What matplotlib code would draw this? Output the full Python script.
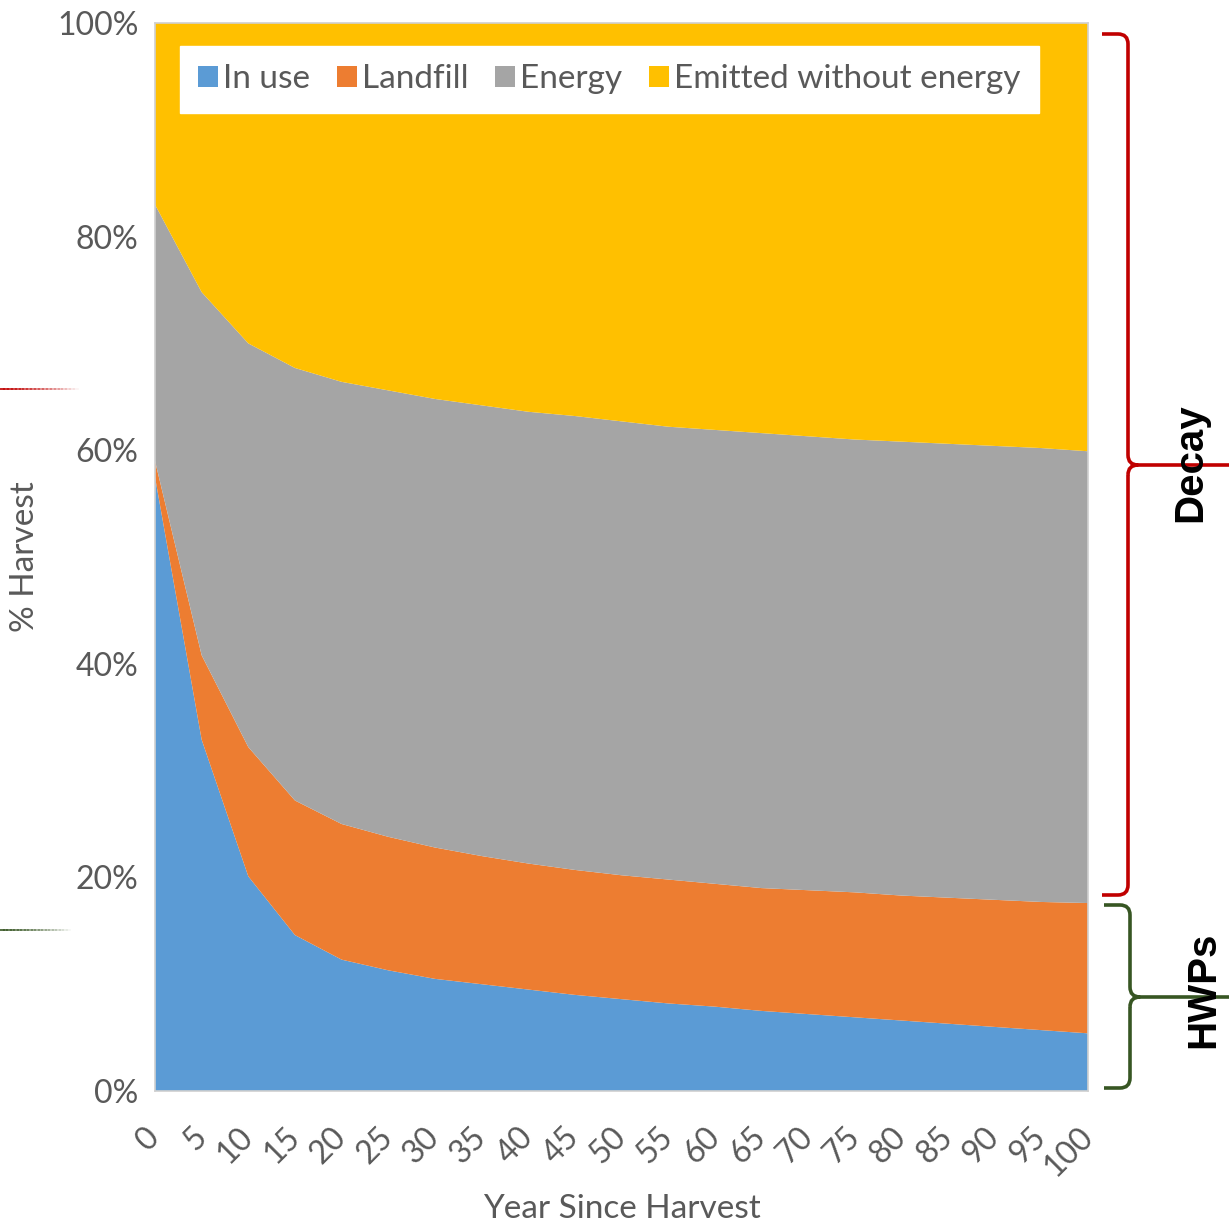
import matplotlib
matplotlib.use("Agg")
import matplotlib.pyplot as plt
from matplotlib.path import Path
from matplotlib.patches import PathPatch, Patch
import numpy as np

# Datos (% de la cosecha)
years = [0, 5, 10, 15, 20, 25, 30, 35, 40, 45, 50, 55, 60, 65, 70, 75, 80, 85, 90, 95, 100]
in_use = [57.5, 32.9, 20.1, 14.6, 12.3, 11.3, 10.5, 10.0, 9.5, 9.0, 8.6, 8.2, 7.9, 7.5, 7.2, 6.9, 6.6, 6.3, 6.0, 5.7, 5.4]
landfill = [1.5, 7.9, 12.1, 12.6, 12.7, 12.5, 12.3, 12.0, 11.8, 11.7, 11.6, 11.6, 11.5, 11.5, 11.6, 11.7, 11.7, 11.8, 11.9, 12.0, 12.2]
energy = [24.0, 34.0, 37.8, 40.5, 41.4, 41.8, 42.0, 42.2, 42.3, 42.5, 42.5, 42.4, 42.5, 42.6, 42.5, 42.4, 42.5, 42.5, 42.5, 42.5, 42.3]
emitted = [17.0, 25.2, 30.0, 32.3, 33.6, 34.4, 35.2, 35.8, 36.4, 36.8, 37.3, 37.8, 38.1, 38.4, 38.7, 39.0, 39.2, 39.4, 39.6, 39.8, 40.1]

series_names = ["In use", "Landfill", "Energy", "Emitted without energy"]
colors = ["#5B9BD5", "#ED7D31", "#A5A5A5", "#FFC000"]
yticks = [0, 20, 40, 60, 80, 100]

W, H = 1229, 1231
fig = plt.figure(figsize=(W / 100, H / 100), dpi=100)
ax = fig.add_axes([155 / W, 1 - 1091 / H, (1088 - 155) / W, (1091 - 23) / H])

ax.stackplot(years, in_use, landfill, energy, emitted, colors=colors, linewidth=0)
ax.set_xlim(0, 100)
ax.set_ylim(0, 100)

gris = "#595959"
ax.set_xticks(years)
ax.set_xticklabels([str(y) for y in years], rotation=45, ha="right", va="center",
                   rotation_mode="anchor", fontsize=23, color=gris, family="Lato")
ax.set_yticks(yticks)
ax.set_yticklabels([f"{v}%" for v in yticks], fontsize=23, color=gris, family="Lato")
ax.tick_params(axis="both", length=0)
ax.tick_params(axis="x", pad=30)
ax.tick_params(axis="y", pad=12)
for s in ax.spines.values():
    s.set_color("#D0D0D0")
    s.set_linewidth(1.2)

ax.set_ylabel("% Harvest", fontsize=24, color=gris, family="Lato", labelpad=12)
ax.set_xlabel("Year Since Harvest", fontsize=24, color=gris, family="Lato", labelpad=8)

# Leyenda en caja blanca
handles = [Patch(facecolor=c, edgecolor="none") for c in colors]
leg = ax.legend(handles, series_names, ncol=4, loc="upper left",
                bbox_to_anchor=((180 - 155) / 933, 1 - (46 - 23) / 1068),
                frameon=True, fancybox=False, framealpha=1,
                edgecolor="white", handlelength=0.6, handleheight=0.6,
                handletextpad=0.15, columnspacing=0.8, borderpad=0.55,
                borderaxespad=0, prop={"family": "Lato", "size": 24})
for t in leg.get_texts():
    t.set_color(gris)


def fx(x, y):
    return (x / W, 1 - y / H)


def brace(x0, xv, xt, ytop, ymid, ybot, color, r=10):
    verts = [fx(x0, ytop), fx(xv - r, ytop), fx(xv, ytop), fx(xv, ytop + r),
             fx(xv, ymid - r), fx(xv, ymid), fx(xv + r, ymid),
             fx(xv, ymid + r), fx(xv, ymid), fx(xv + r, ymid),
             fx(xv, ymid + r), fx(xv, ybot - r), fx(xv, ybot), fx(xv - r, ybot), fx(x0, ybot),
             fx(xv + r, ymid), fx(xt, ymid)]
    codes = [Path.MOVETO, Path.LINETO, Path.CURVE3, Path.CURVE3,
             Path.LINETO, Path.CURVE3, Path.CURVE3,
             Path.MOVETO, Path.CURVE3, Path.CURVE3,
             Path.MOVETO, Path.LINETO, Path.CURVE3, Path.CURVE3, Path.LINETO,
             Path.MOVETO, Path.LINETO]
    fig.add_artist(PathPatch(Path(verts, codes), transform=fig.transFigure,
                             facecolor="none", edgecolor=color, linewidth=2.6))


brace(1102, 1128, 1229, 34, 465, 895, "#C00000")
brace(1104, 1130, 1229, 905, 997, 1088, "#375623")

fig.text(*fx(1190, 463), "Decay", rotation=90, ha="center", va="center",
         fontsize=29, fontweight="bold", family="Liberation Sans")
fig.text(*fx(1203, 990), "HWPs", rotation=90, ha="center", va="center",
         fontsize=29, fontweight="bold", family="Liberation Sans")

# Líneas que se desvanecen a la izquierda
for ycoord, col, x_end in [(389, "#C00000", 78), (930, "#375623", 70)]:
    n = 20
    xs = np.linspace(0, x_end, n + 1)
    for i in range(n):
        fig.add_artist(plt.Line2D([xs[i] / W, xs[i + 1] / W], [1 - ycoord / H] * 2,
                                  transform=fig.transFigure, color=col,
                                  alpha=1 - i / n, linewidth=1.2))

fig.savefig("out.png", dpi=100)
